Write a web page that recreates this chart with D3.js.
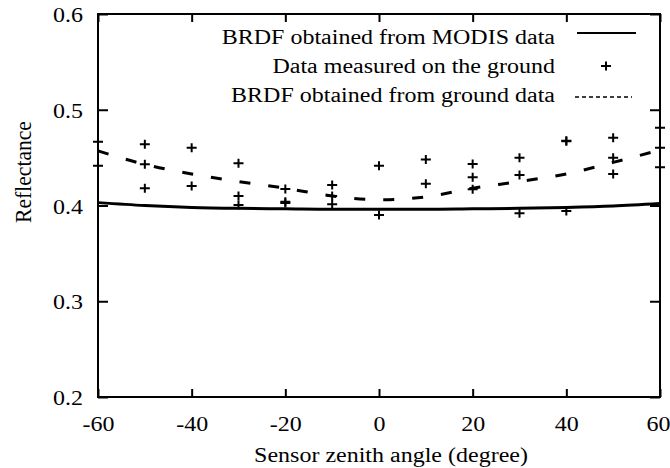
<!DOCTYPE html>
<html>
<head>
<meta charset="utf-8">
<script src="https://cdn.jsdelivr.net/npm/d3@7"></script>
<style>
    body { margin: 0; background: #fff; }
    svg text { font-family: "Liberation Serif", "Times New Roman", serif; font-size: 24px; fill: #000; }
</style>
</head>
<body>
<svg id="chart"></svg>
<script>
// sensor zenith angles used by both BRDF curves
const angles = [-60, -50, -40, -30, -20, -10, 0, 10, 20, 30, 40, 50, 60];
const modisBrdf = [0.403, 0.400, 0.398, 0.397, 0.3965, 0.396, 0.396, 0.396, 0.3965, 0.397, 0.398, 0.3995, 0.402];
const groundBrdf = [0.457, 0.443, 0.433, 0.425, 0.418, 0.410, 0.406, 0.409, 0.418, 0.425, 0.433, 0.445, 0.458];

// ground measurements (angle, reflectance)
const measAngles = [-60, -60,
    -50, -50, -50,
    -40, -40,
    -30, -30, -30,
    -20, -20, -20,
    -10, -10, -10,
    0, 0,
    10, 10,
    20, 20, 20,
    30, 30, 30,
    40, 40, 40,
    50, 50, 50,
    60, 60, 60];
const measValues = [0.4666, 0.4416,
    0.464, 0.443, 0.418,
    0.4604, 0.4204,
    0.444, 0.410, 0.4005,
    0.4172, 0.404, 0.4025,
    0.4214, 0.410, 0.4013,
    0.4416, 0.390,
    0.448, 0.4228,
    0.4433, 0.4295, 0.4169,
    0.450, 0.4318, 0.392,
    0.4677, 0.4670, 0.3943,
    0.4708, 0.450, 0.4329,
    0.4813, 0.4604, 0.4399];

const xTicks = [-60, -40, -20, 0, 20, 40, 60];
const yTicks = [0.2, 0.3, 0.4, 0.5, 0.6];
const legendLabels = ['BRDF obtained from MODIS data', 'Data measured on the ground', 'BRDF obtained from ground data'];

const width = 670, height = 468;
const plotLeft = 98, plotRight = 660, plotTop = 14, plotBottom = 397;
const squash = 'scale(1,0.9)';

const svg = d3.select('#chart')
    .attr('width', width)
    .attr('height', height);

const x = d3.scaleLinear().domain([-60, 60]).range([plotLeft, plotRight]);
const y = d3.scaleLinear().domain([0.2, 0.6]).range([plotBottom, plotTop]);

// axes with inward ticks
const gx = svg.append('g')
    .attr('transform', `translate(0,${plotBottom})`)
    .call(d3.axisBottom(x).tickValues(xTicks).tickSize(-8).tickFormat(d => String(d)));
gx.selectAll('text')
    .attr('y', null).attr('dy', null)
    .attr('transform', d => `translate(${d === 60 ? -2 : 0},34) ${squash}`);

const gy = svg.append('g')
    .attr('transform', `translate(${plotLeft},0)`)
    .call(d3.axisLeft(y).tickValues(yTicks).tickSize(-10).tickFormat(d3.format('.1f')));
gy.selectAll('text')
    .attr('x', null).attr('dy', null)
    .attr('text-anchor', 'end')
    .attr('transform', `translate(-15,7.5) ${squash}`);

svg.append('g')
    .attr('transform', `translate(0,${plotTop})`)
    .call(d3.axisTop(x).tickValues(xTicks).tickSize(-8).tickFormat(''));
svg.append('g')
    .attr('transform', `translate(${plotRight},0)`)
    .call(d3.axisRight(y).tickValues(yTicks).tickSize(-10).tickFormat(''));

svg.selectAll('.domain').remove();
svg.selectAll('.tick line').attr('stroke', '#000').attr('stroke-width', 2);

// frame
svg.append('rect')
    .attr('x', plotLeft).attr('y', plotTop)
    .attr('width', plotRight - plotLeft).attr('height', plotBottom - plotTop)
    .attr('fill', 'none')
    .attr('stroke', '#000')
    .attr('stroke-width', 2);

// curves
const line = d3.line()
    .x((d, i) => x(angles[i]))
    .y(d => y(d))
    .curve(d3.curveMonotoneX);

svg.append('path')
    .attr('d', line(modisBrdf))
    .attr('fill', 'none')
    .attr('stroke', '#000')
    .attr('stroke-width', 3);

svg.append('path')
    .attr('d', line(groundBrdf))
    .attr('fill', 'none')
    .attr('stroke', '#000')
    .attr('stroke-width', 3)
    .attr('stroke-dasharray', '11,18');

// measured points as crosses
const cross = (cx, cy) => `M${cx - 5},${cy}h10M${cx},${cy - 4.5}v9`;
svg.append('g')
    .selectAll('path')
    .data(measValues)
    .enter()
    .append('path')
    .attr('d', (d, i) => cross(x(measAngles[i]), y(d)))
    .attr('stroke', '#000')
    .attr('stroke-width', 2);

// legend
const legendY = [44, 73, 102];
svg.append('g')
    .selectAll('text')
    .data(legendLabels)
    .enter()
    .append('text')
    .attr('text-anchor', 'end')
    .attr('transform', (d, i) => `translate(555,${legendY[i]}) ${squash}`)
    .text(d => d);

svg.append('line')
    .attr('x1', 577).attr('x2', 636)
    .attr('y1', 33).attr('y2', 33)
    .attr('stroke', '#000').attr('stroke-width', 2);
svg.append('path')
    .attr('d', cross(606, 66))
    .attr('stroke', '#000').attr('stroke-width', 2);
svg.append('line')
    .attr('x1', 575).attr('x2', 632)
    .attr('y1', 97).attr('y2', 97)
    .attr('stroke', '#000').attr('stroke-width', 1.5)
    .attr('stroke-dasharray', '4,3');

// axis titles
svg.append('text')
    .attr('text-anchor', 'middle')
    .attr('transform', `translate(391,462) ${squash}`)
    .text('Sensor zenith angle (degree)');

svg.append('text')
    .attr('text-anchor', 'middle')
    .attr('transform', 'translate(31,172) rotate(-90) scale(0.9,1)')
    .text('Reflectance');
</script>
</body>
</html>
